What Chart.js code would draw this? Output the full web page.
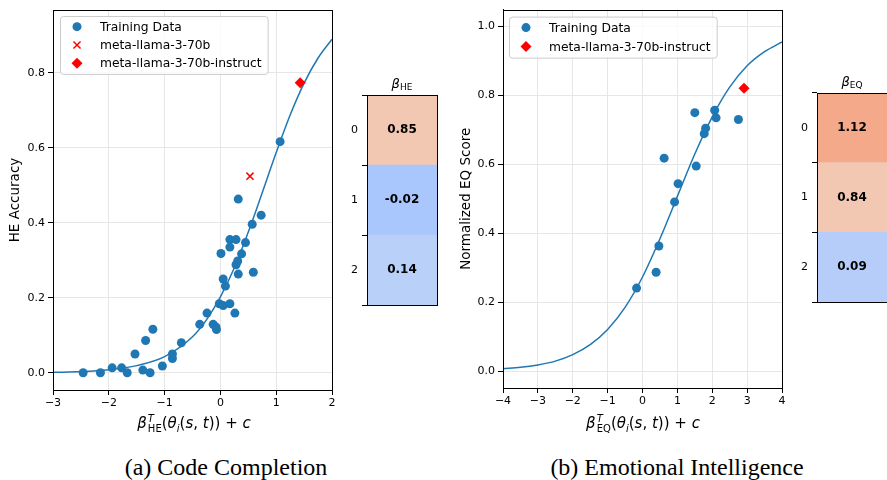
<!DOCTYPE html>
<html>
<head>
<meta charset="utf-8">
<script src="https://cdn.jsdelivr.net/npm/chart.js@4.4.1/dist/chart.umd.min.js"></script>
<style>
  body { margin: 0; background: #fff; width: 887px; height: 480px; overflow: hidden; position: relative; font-family: "DejaVu Sans"; color: #000; }
  canvas { position: absolute; }
  .txt { position: absolute; white-space: nowrap; transform: translateX(-50%); }
  .math { font-family: "DejaVu Sans"; font-size: 15px; line-height: 20px; }
  .math i { font-style: oblique; }
  .ss { display: inline-block; vertical-align: middle; font-size: 10px; line-height: 10px; margin-left: 1px; }
  .ss span { display: block; }
  .cap { font-family: "Liberation Serif"; font-size: 24px; line-height: 24px; }
  .htitle { font-size: 13px; line-height: 16px; }
  .htitle sub { font-size: 9px; vertical-align: -2px; font-style: normal; }
</style>
</head>
<body>
<canvas id="heScatter" width="345" height="440" style="left:0;top:0"></canvas>
<canvas id="heBeta" width="110" height="260" style="left:340px;top:60px"></canvas>
<canvas id="eqScatter" width="345" height="440" style="left:450px;top:0"></canvas>
<canvas id="eqBeta" width="97" height="260" style="left:790px;top:60px"></canvas>

<div class="txt math" style="left:194px;top:413px"><i>β</i><span class="ss"><span><i>T</i></span><span>HE</span></span>(<i>θ</i><sub style="font-size:10px"><i>i</i></sub>(<i>s</i>, <i>t</i>)) + <i>c</i></div>
<div class="txt math" style="left:643px;top:413px"><i>β</i><span class="ss"><span><i>T</i></span><span>EQ</span></span>(<i>θ</i><sub style="font-size:10px"><i>i</i></sub>(<i>s</i>, <i>t</i>)) + <i>c</i></div>
<div class="txt htitle" style="left:402px;top:76px"><i>β</i><sub>HE</sub></div>
<div class="txt htitle" style="left:852px;top:74px"><i>β</i><sub>EQ</sub></div>
<div class="txt cap" style="left:226px;top:455px">(a) Code Completion</div>
<div class="txt cap" style="left:677px;top:455px">(b) Emotional Intelligence</div>

<script>
// ---- Code completion (HE) ----
const heTrainX = [-2.46, -2.15, -1.94, -1.77, -1.67, -1.53, -1.39, -1.34, -1.26, -1.21, -1.04, -0.86, -0.86, -0.70,
  -0.37, -0.24, -0.13, -0.08, -0.07, -0.02, 0.01, 0.05, 0.05, 0.09, 0.17, 0.17, 0.17, 0.26, 0.28, 0.28,
  0.31, 0.32, 0.32, 0.38, 0.45, 0.57, 0.59, 0.73, 1.07];
const heTrainY = [0.000, 0.000, 0.013, 0.013, 0.000, 0.050, 0.007, 0.086, 0.000, 0.116, 0.018, 0.050, 0.038, 0.080,
  0.129, 0.159, 0.129, 0.122, 0.115, 0.184, 0.318, 0.250, 0.179, 0.231, 0.184, 0.335, 0.355, 0.159, 0.355, 0.288,
  0.298, 0.463, 0.263, 0.317, 0.347, 0.396, 0.268, 0.420, 0.616];
const heBaseX = [0.53];
const heBaseY = [0.524];
const heInstructX = [1.43];
const heInstructY = [0.773];
const heCurveX = [-3, -2.5, -2, -1.5, -1, -0.5, -0.25, 0, 0.25, 0.5, 0.75, 1, 1.25, 1.5, 1.75, 2];
const heCurveY = [0.001, 0.003, 0.008, 0.019, 0.043, 0.096, 0.141, 0.202, 0.280, 0.375, 0.480, 0.587, 0.687, 0.772, 0.839, 0.889];
const heTicksX = [-3, -2, -1, 0, 1, 2];
const heTicksY = [0, 0.2, 0.4, 0.6, 0.8];

// ---- Emotional intelligence (EQ) ----
const eqTrainX = [-0.17, 0.39, 0.47, 0.62, 0.92, 1.02, 1.50, 1.54, 1.77, 1.81, 2.07, 2.11, 2.75];
const eqTrainY = [0.241, 0.287, 0.363, 0.618, 0.491, 0.544, 0.750, 0.595, 0.689, 0.705, 0.757, 0.735, 0.730];
const eqInstructX = [2.91];
const eqInstructY = [0.821];
const eqCurveX = [-4, -3.5, -3, -2.5, -2, -1.5, -1, -0.5, 0, 0.5, 1, 1.5, 2, 2.5, 3, 3.5, 4];
const eqCurveY = [0.007, 0.011, 0.018, 0.029, 0.048, 0.077, 0.121, 0.185, 0.273, 0.384, 0.507, 0.630, 0.738, 0.824, 0.886, 0.927, 0.955];
const eqTicksX = [-4, -3, -2, -1, 0, 1, 2, 3, 4];
const eqTicksY = [0, 0.2, 0.4, 0.6, 0.8, 1.0];

// ---- beta heatmaps ----
const betaRows = ['0', '1', '2'];
const betaHE = [0.85, -0.02, 0.14];
const betaEQ = [1.12, 0.84, 0.09];

const heCellColors = ['#f2c8b2', '#aac7fd', '#b9d0f9'];
const eqCellColors = ['#f4a98b', '#f2c8b2', '#b6cdf9'];

const BLUE = '#1f77b4';
const FONT = 'DejaVu Sans';

const pts = (xs, ys) => xs.map((x, i) => ({ x: x, y: ys[i] }));
const minus = v => (v < 0 ? '\u2212' + Math.abs(v) : String(v));

// spines on all four sides (aligned with chart.js axis borders)
const frame = {
  id: 'frame',
  afterDraw(chart) {
    const { ctx, chartArea: a } = chart;
    const l = Math.round(a.left) + 0.5, t = Math.round(a.top) + 0.5;
    const r = Math.round(a.right) + 0.5, b = Math.round(a.bottom) + 0.5;
    ctx.save();
    ctx.strokeStyle = '#000';
    ctx.lineWidth = 1;
    ctx.strokeRect(l, t, r - l, b - t);
    ctx.restore();
  }
};

// matplotlib-style legend box in upper left
const boxLegend = {
  id: 'boxLegend',
  afterDatasetsDraw(chart, args, o) {
    const { ctx, chartArea: a } = chart;
    const items = chart.data.datasets.filter(d => d.label);
    ctx.save();
    ctx.font = '12.3px "' + FONT + '"';
    const tw = Math.max(...items.map(d => ctx.measureText(d.label).width));
    const x0 = a.left + o.dx, y0 = a.top + o.dy;
    const w = 40 + tw + 6, h = o.gap * items.length + 3;
    ctx.beginPath();
    ctx.roundRect(x0 + 0.5, y0 + 0.5, w, h, 3);
    ctx.fillStyle = 'rgba(255,255,255,0.8)';
    ctx.fill();
    ctx.strokeStyle = '#cccccc';
    ctx.lineWidth = 1;
    ctx.stroke();
    items.forEach((d, i) => {
      const cy = y0 + 1.5 + o.gap * (i + 0.5);
      ctx.fillStyle = d.backgroundColor;
      ctx.strokeStyle = d.borderColor || d.backgroundColor;
      ctx.lineWidth = d.borderWidth || 0;
      Chart.helpers.drawPoint(ctx, {
        pointStyle: d.pointStyle || 'circle', radius: d.pointRadius, rotation: 0, borderWidth: d.borderWidth || 0
      }, x0 + 17, cy);
      ctx.fillStyle = '#000';
      ctx.textBaseline = 'middle';
      ctx.textAlign = 'left';
      ctx.fillText(d.label, x0 + 40, cy + 1);
    });
    ctx.restore();
  }
};

function scatterChart(id, cfg) {
  const datasets = [
    { label: 'Training Data', data: pts(cfg.trainX, cfg.trainY), backgroundColor: BLUE, pointRadius: 4.5,
      borderWidth: 0, order: 2 }
  ];
  if (cfg.baseX) {
    datasets.push({ label: 'meta-llama-3-70b', data: pts(cfg.baseX, cfg.baseY), pointStyle: 'crossRot',
      pointRadius: 5, borderColor: 'red', backgroundColor: 'red', borderWidth: 1.5, order: 1 });
  }
  datasets.push({ label: 'meta-llama-3-70b-instruct', data: pts(cfg.instX, cfg.instY), pointStyle: 'rectRot',
    pointRadius: 5.5, backgroundColor: 'red', borderWidth: 0, order: 0 });
  datasets.push({ type: 'line', data: pts(cfg.curveX, cfg.curveY), borderColor: BLUE, borderWidth: 1.5,
    pointRadius: 0, fill: false, cubicInterpolationMode: 'monotone', order: 3 });

  return new Chart(document.getElementById(id), {
    type: 'scatter',
    data: { datasets: datasets },
    options: {
      responsive: false,
      animation: false,
      events: [],
      layout: { padding: { top: cfg.top, right: 13, left: 0, bottom: 0 } },
      plugins: {
        legend: { display: false },
        tooltip: { enabled: false },
        boxLegend: { dx: cfg.legDx, dy: cfg.legDy, gap: cfg.gap }
      },
      scales: {
        x: {
          type: 'linear', min: cfg.xMin, max: cfg.xMax,
          afterBuildTicks: s => { s.ticks = cfg.ticksX.map(v => ({ value: v })); },
          afterFit: s => { s.height = cfg.xAxisH; },
          ticks: { font: { family: FONT, size: 11 }, color: '#000', padding: 2, maxRotation: 0, callback: v => minus(v) },
          grid: { color: '#e6e6e6', lineWidth: 1, tickColor: '#000', tickLength: 5 },
          border: { color: '#000', width: 1 }
        },
        y: {
          type: 'linear', min: cfg.yMin, max: cfg.yMax,
          afterBuildTicks: s => { s.ticks = cfg.ticksY.map(v => ({ value: v })); },
          afterFit: s => { s.width = 53; },
          ticks: { font: { family: FONT, size: 11 }, color: '#000', padding: 3, callback: v => v.toFixed(1) },
          grid: { color: '#e6e6e6', lineWidth: 1, tickColor: '#000', tickLength: 5 },
          border: { color: '#000', width: 1 },
          title: { display: true, text: cfg.yTitle, color: '#000', font: { family: FONT, size: 13.5 }, padding: { top: cfg.titlePad, bottom: 0 } }
        }
      }
    },
    plugins: [frame, boxLegend]
  });
}

// value labels inside heatmap cells
const cellText = {
  id: 'cellText',
  afterDatasetsDraw(chart) {
    const { ctx } = chart;
    const ds = chart.data.datasets[0];
    const meta = chart.getDatasetMeta(0);
    const a = chart.chartArea;
    ctx.save();
    ctx.font = 'bold 12px "' + FONT + '"';
    ctx.fillStyle = '#000';
    ctx.textAlign = 'center';
    ctx.textBaseline = 'middle';
    meta.data.forEach((bar, i) => {
      ctx.fillText(ds.values[i].toFixed(2), (a.left + a.right) / 2, bar.y);
    });
    ctx.restore();
  }
};

function heatChart(id, values, colors, top, right, bottom) {
  return new Chart(document.getElementById(id), {
    type: 'bar',
    data: {
      labels: betaRows,
      datasets: [{ data: values.map(() => [0, 1]), values: values, backgroundColor: colors, borderWidth: 0,
        barPercentage: 1, categoryPercentage: 1 }]
    },
    options: {
      indexAxis: 'y',
      responsive: false,
      animation: false,
      events: [],
      layout: { padding: { top: top, right: right, bottom: bottom, left: 0 } },
      plugins: { legend: { display: false }, tooltip: { enabled: false } },
      scales: {
        x: { display: false, min: 0, max: 1 },
        y: {
          afterFit: s => { s.width = 27; },
          ticks: { font: { family: FONT, size: 11 }, color: '#000', padding: 4 },
          grid: { drawOnChartArea: false, tickColor: '#000', tickLength: 5 },
          border: { color: '#000', width: 1 }
        }
      }
    },
    plugins: [cellText, frame]
  });
}

scatterChart('heScatter', {
  trainX: heTrainX, trainY: heTrainY, baseX: heBaseX, baseY: heBaseY, instX: heInstructX, instY: heInstructY,
  curveX: heCurveX, curveY: heCurveY, ticksX: heTicksX, ticksY: heTicksY,
  xMin: -3, xMax: 2, yMin: -0.046, yMax: 0.967, yTitle: 'HE Accuracy',
  top: 10, xAxisH: 50, titlePad: 7, legDx: 7, legDy: 6, gap: 18.3
});
scatterChart('eqScatter', {
  trainX: eqTrainX, trainY: eqTrainY, instX: eqInstructX, instY: eqInstructY,
  curveX: eqCurveX, curveY: eqCurveY, ticksX: eqTicksX, ticksY: eqTicksY,
  xMin: -4, xMax: 4, yMin: -0.049, yMax: 1.049, yTitle: 'Normalized EQ Score',
  top: 7, xAxisH: 52, titlePad: 8, legDx: 6, legDy: 7, gap: 19
});
heatChart('heBeta', betaHE, heCellColors, 35, 13, 15);
heatChart('eqBeta', betaEQ, eqCellColors, 33, 0, 18);
</script>
</body>
</html>
